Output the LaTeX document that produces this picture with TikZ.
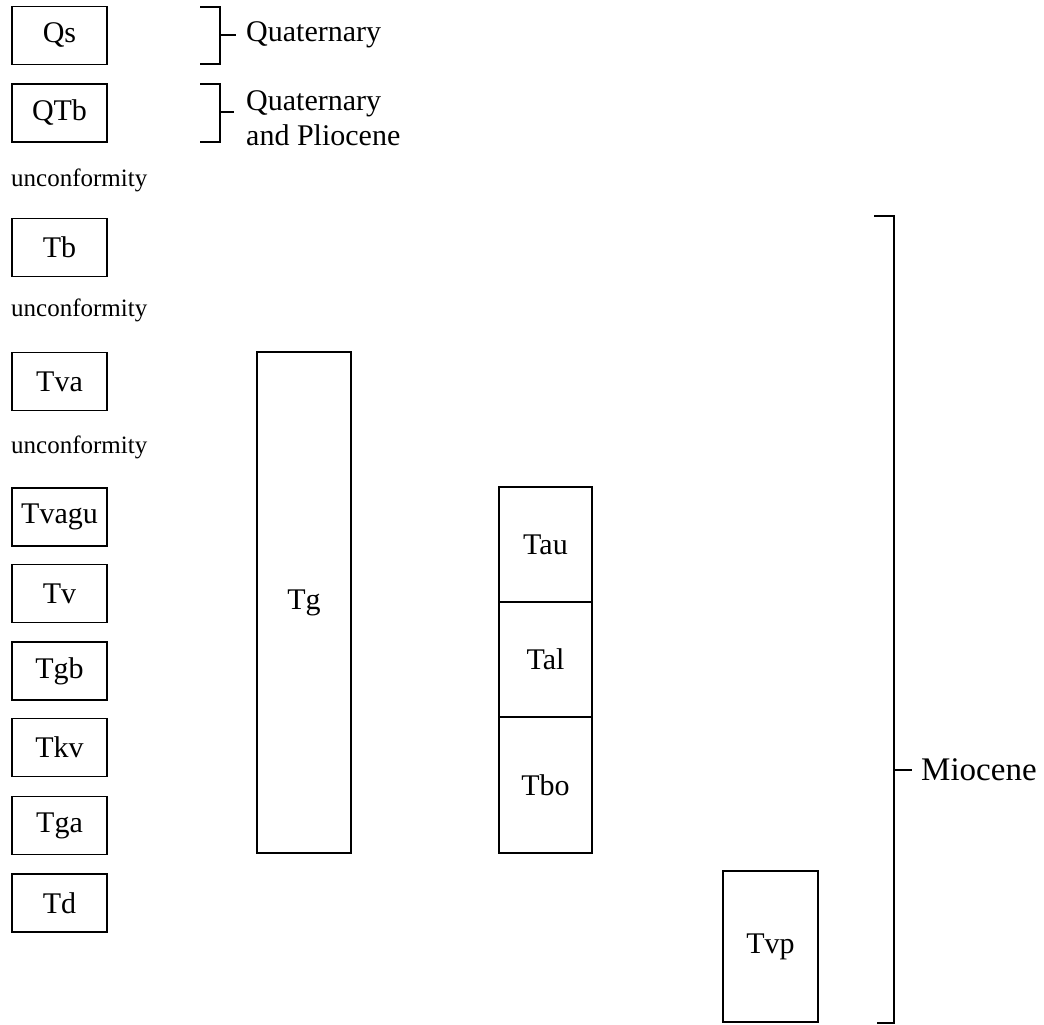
\documentclass[tikz,border=0pt]{standalone}
\usepackage{fontspec}
\setmainfont{Liberation Serif}
\begin{document}
\begin{tikzpicture}[x=1pt,y=-1pt,
  unit/.style={draw=black, line width=1.3pt, inner sep=0pt, font=\fontsize{30}{32}\selectfont},
  small/.style={draw=black, line width=1.3pt, inner sep=0pt, minimum width=95pt, minimum height=58pt, font=\fontsize{30}{32}\selectfont},
  note/.style={inner sep=0pt, anchor=west, font=\fontsize{25}{27}\selectfont},
  age/.style={inner sep=0pt, anchor=west, align=left, font=\fontsize{30}{35}\selectfont},
  brk/.style={line width=1.3pt}]
\useasboundingbox (0,0) rectangle (1044,1025);
% left column
\node[small] (qs) at (59.5,35.5) {Qs};
\node[small] (qtb) at (59.5,113) {QTb};
\node[note] (u1) at (11,180) {unconformity};
\node[small] (tb) at (59.5,247.5) {Tb};
\node[note] (u2) at (11,310) {unconformity};
\node[small] (tva) at (59.5,381.5) {Tva};
\node[note] (u3) at (11,447) {unconformity};
\node[small] (tvagu) at (59.5,517) {Tvagu};
\node[small] (tv) at (59.5,593.5) {Tv};
\node[small] (tgb) at (59.5,671) {Tgb};
\node[small] (tkv) at (59.5,747.5) {Tkv};
\node[small] (tga) at (59.5,825.5) {Tga};
\node[small] (td) at (59.5,903) {Td};
% Tg
\node[unit, minimum width=94pt, minimum height=501pt] (tg) at (304,602.5) {Tg};
% Tau / Tal / Tbo stack
\node[unit, minimum width=93pt, minimum height=115pt] (tau) at (545.5,544.5) {Tau};
\node[unit, minimum width=93pt, minimum height=115pt] (tal) at (545.5,659.5) {Tal};
\node[unit, minimum width=93pt, minimum height=136pt] (tbo) at (545.5,785) {Tbo};
% Tvp
\node[unit, minimum width=95pt, minimum height=151pt] (tvp) at (770.5,946.5) {Tvp};
% brackets
\draw[brk] (200,7) -- (220,7) -- (220,64) -- (200,64);
\draw[brk] (220,35) -- (236,35);
\node[age] (quat) at (246,35) {Quaternary};
\draw[brk] (200,84) -- (220,84) -- (220,142) -- (200,142);
\draw[brk] (220,112) -- (234,112);
\node[age] (qp) at (246,118) {Quaternary\\and Pliocene};
\draw[brk] (874,216) -- (894,216) -- (894,1023) -- (877,1023);
\draw[brk] (894,770) -- (912,770);
\node[age, font=\fontsize{33}{35}\selectfont] (mio) at (921,770) {Miocene};
\end{tikzpicture}
\end{document}
